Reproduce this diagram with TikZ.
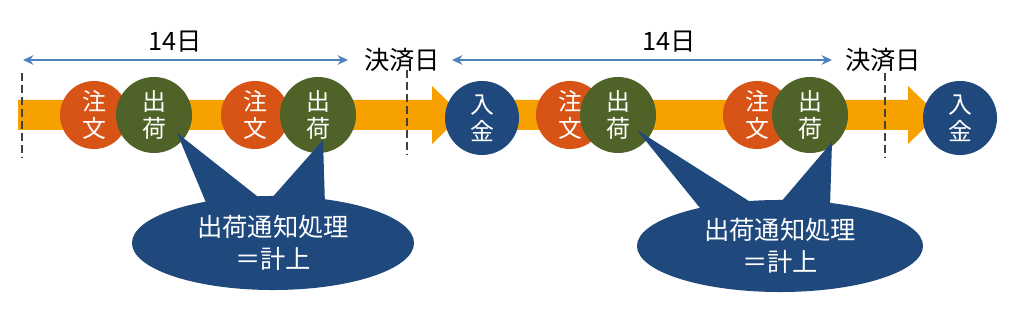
\documentclass[tikz,border=0pt]{standalone}
\usepackage{fontspec}
\setmainfont{Noto Sans CJK JP}
\usetikzlibrary{arrows.meta, positioning, calc, shapes.geometric}
\definecolor{flowamber}{HTML}{F7A100}
\definecolor{orderred}{HTML}{D75316}
\definecolor{shipgreen}{HTML}{4F6228}
\definecolor{paynavy}{HTML}{1F497D}
\definecolor{spanblue}{HTML}{4F81BD}
\definecolor{tickgray}{HTML}{404040}

\begin{document}
\begin{tikzpicture}[x=0.025cm, y=-0.025cm,
    ev/.style={circle, inner sep=0pt, text=white, align=center,
               font=\fontsize{17}{19.5}\selectfont},
    order/.style={ev, fill=orderred, minimum size=1.7cm},
    ship/.style={ev, fill=shipgreen, minimum size=1.9cm},
    pay/.style={ev, fill=paynavy, minimum size=1.85cm},
    note/.style={ellipse, fill=paynavy, text=white, align=center,
                 inner sep=0pt, font=\fontsize{18}{23}\selectfont},
    lbl/.style={font=\fontsize{18}{20}\selectfont},
    span/.style={{Stealth[length=2.6mm,width=2.4mm]}-{Stealth[length=2.6mm,width=2.4mm]},
                 spanblue, line width=1.8pt},
    tick/.style={tickgray, line width=2pt, dash pattern=on 5.7pt off 2.8pt},
]
\useasboundingbox (0,0) rectangle (1024,314);

% flow bars
\fill[flowamber] (18,100) -- (432,100) -- (432,86) -- (462,115)
    -- (432,144) -- (432,130) -- (18,130) -- cycle;
\fill[flowamber] (482,100) -- (908,100) -- (908,86) -- (938,115)
    -- (908,144) -- (908,130) -- (482,130) -- cycle;

\draw[tick] (22,73) -- (22,157);
\draw[tick] (407,70) -- (407,155);
\draw[tick] (885,73) -- (885,158);

% spans
\node[lbl] (d1) at (175,42) {14日};
\node[lbl] (k1) at (402,60) {決済日};
\node[lbl] (d2) at (669,42) {14日};
\node[lbl] (k2) at (883,60) {決済日};
\coordinate (a1) at (23,60);
\coordinate (b1) at (348,60);
\coordinate (a2) at (452,60);
\coordinate (b2) at (832,60);
\draw[span] (a1) -- (b1);
\draw[span] (a2) -- (b2);

% events
\node[order] (o1) at (94,115) {注\\文};
\node[ship] (s1) at (154,115) {出\\荷};
\node[order] (o2) at (255,115) {注\\文};
\node[ship] (s2) at (318,115) {出\\荷};
\node[pay] (p1) at (482,118) {入\\金};
\node[order] (o3) at (570,115) {注\\文};
\node[ship] (s3) at (618,115) {出\\荷};
\node[order] (o4) at (757,115) {注\\文};
\node[ship] (s4) at (810,115) {出\\荷};
\node[pay] (p2) at (960,118) {入\\金};

% callouts
\node[note, minimum width=7.05cm, minimum height=2.35cm] (n1) at (273,243)
    {出荷通知処理\\＝計上};
\node[note, minimum width=7.15cm, minimum height=2.3cm] (n2) at (780,246)
    {出荷通知処理\\＝計上};
\coordinate (t1) at (177,133);
\coordinate (t2) at (323,140);
\coordinate (t3) at (637,130);
\coordinate (t4) at (832,142);
\fill[paynavy] (t1) -- (207,205) -- (262,200) -- cycle;
\fill[paynavy] (t2) -- (270,200) -- (325,205) -- cycle;
\fill[paynavy] (t3) -- (700,208) -- (752,203) -- cycle;
\fill[paynavy] (t4) -- (780,203) -- (830,207) -- cycle;

\end{tikzpicture}
\end{document}
